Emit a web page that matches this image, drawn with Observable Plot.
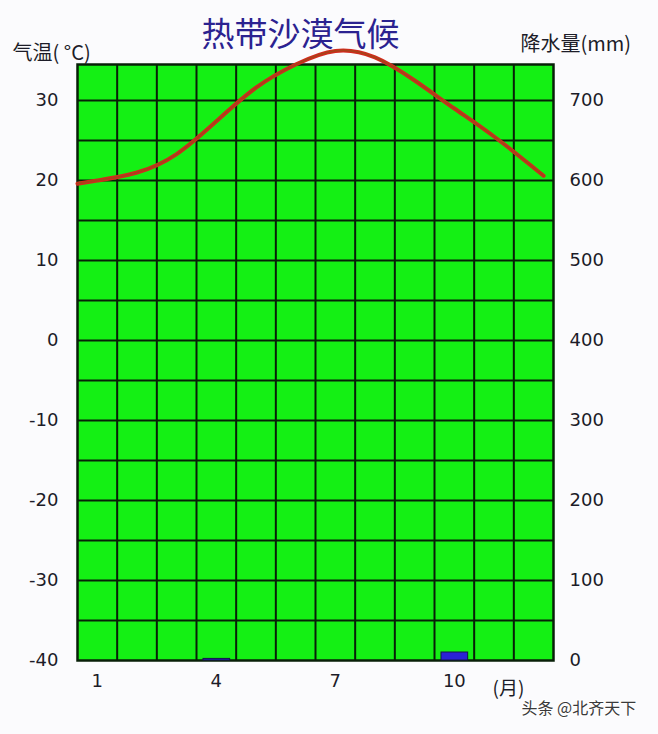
<!DOCTYPE html>
<html>
<head>
<meta charset="utf-8">
<script src="https://cdn.jsdelivr.net/npm/d3@7"></script>
<script src="https://cdn.jsdelivr.net/npm/@observablehq/plot@0.6"></script>
<style>
  html, body { margin: 0; padding: 0; background: #fbfbfd; }
  #chart svg { display: block; background: #fbfbfd; }
</style>
</head>
<body>
<div id="chart"></div>
<script>
// ---- data ----
const title = "热带沙漠气候";
const tempLabel = "气温( °C)";
const precLabel = "降水量(mm)";
const monthUnit = "(月)";
const watermark = "头条 @北齐天下";

// temperature curve (month position, °C)
const curveMonths = [0.5, 1, 2, 3, 4, 5, 6, 7, 8, 9, 10, 11, 12, 12.25];
const curveTemps  = [19.6, 20.0, 21.0, 23.3, 27.4, 31.6, 34.5, 36.2, 35.4, 32.5, 29.0, 25.5, 21.6, 20.6];

// precipitation (mm)
const months = [1, 2, 3, 4, 5, 6, 7, 8, 9, 10, 11, 12];
const precip = [0, 0, 0, 2, 0, 0, 0, 0, 0, 10, 0, 0];

// axes
const tempTicks = [-40, -30, -20, -10, 0, 10, 20, 30];
const monthTicks = [1, 4, 7, 10];
const gridX = [1.5, 2.5, 3.5, 4.5, 5.5, 6.5, 7.5, 8.5, 9.5, 10.5, 11.5];
const gridY = [-35, -30, -25, -20, -15, -10, -5, 0, 5, 10, 15, 20, 25, 30];

// ---- tables ----
const curve = curveMonths.map((m, i) => ({month: m, temp: curveTemps[i]}));
const bars = months.map((m, i) => ({month: m, p: precip[i]})).filter(d => d.p > 0);
// precipitation shares the temperature scale: 0 mm ↔ -40 °C, 10 mm per °C
const p2t = p => p / 10 - 40;

const font = "'Noto Sans CJK SC', 'Noto Sans', sans-serif";
const numFont = "'DejaVu Sans', sans-serif";
const gridColor = "#082008";
const textColor = "#1c1c28";

const chart = Plot.plot({
  width: 658,
  height: 734,
  marginLeft: 77,
  marginRight: 105,
  marginTop: 64,
  marginBottom: 74,
  style: {fontFamily: font, background: "#fbfbfd", overflow: "visible"},
  x: {domain: [0.5, 12.5], axis: null},
  y: {domain: [-40, 34.5], axis: null},
  marks: [
    Plot.frame({fill: "#14f014", stroke: null}),
    Plot.ruleX(gridX, {stroke: gridColor, strokeWidth: 2}),
    Plot.ruleY(gridY, {stroke: gridColor, strokeWidth: 2}),
    Plot.frame({stroke: gridColor, strokeWidth: 2.5}),
    Plot.rectY(bars, {
      x1: d => d.month - 0.5, x2: d => d.month + 0.5,
      y1: p2t(0), y2: d => p2t(d.p),
      insetLeft: 7, insetRight: 6,
      fill: "#2a22d6", stroke: "#16144a", strokeWidth: 1
    }),
    Plot.line(curve, {x: "month", y: "temp", curve: "natural", stroke: "#d42a1e", strokeWidth: 4, strokeLinecap: "round"}),
    Plot.line(curve, {x: "month", y: "temp", curve: "natural", stroke: "#a8421a", strokeWidth: 1.8, strokeLinecap: "round"}),
    Plot.axisY(tempTicks, {anchor: "left", label: null, tickSize: 0, tickPadding: 19, fontSize: 18, fontFamily: numFont, fill: textColor, tickFormat: d => d}),
    Plot.axisY(tempTicks, {anchor: "right", label: null, tickSize: 0, tickPadding: 16, fontSize: 18, fontFamily: numFont, fill: textColor, tickFormat: t => (t + 40) * 10}),
    Plot.axisX(monthTicks, {anchor: "bottom", label: null, tickSize: 0, tickPadding: 14, fontSize: 18, fontFamily: numFont, fill: textColor, tickFormat: d => d}),
    Plot.text([title], {frameAnchor: "top", dx: -15, dy: -42, fontSize: 33, fill: "#2b2290", fontWeight: 400}),
    Plot.text([tempLabel], {frameAnchor: "top-left", dx: -65, dy: -19, textAnchor: "start", fontSize: 20, fill: textColor}),
    Plot.text([precLabel], {frameAnchor: "top-right", dx: -33, dy: -28, textAnchor: "start", fontSize: 20, fill: textColor}),
    Plot.text([monthUnit], {frameAnchor: "bottom-right", dx: -61, dy: 34, textAnchor: "start", fontSize: 19, fill: textColor}),
    Plot.text([watermark], {frameAnchor: "bottom-right", dx: -32, dy: 53, textAnchor: "start", fontSize: 16, fill: "#3a3a3a", stroke: "#ffffff", strokeWidth: 2, paintOrder: "stroke"})
  ]
});
document.getElementById("chart").appendChild(chart);
</script>
</body>
</html>
